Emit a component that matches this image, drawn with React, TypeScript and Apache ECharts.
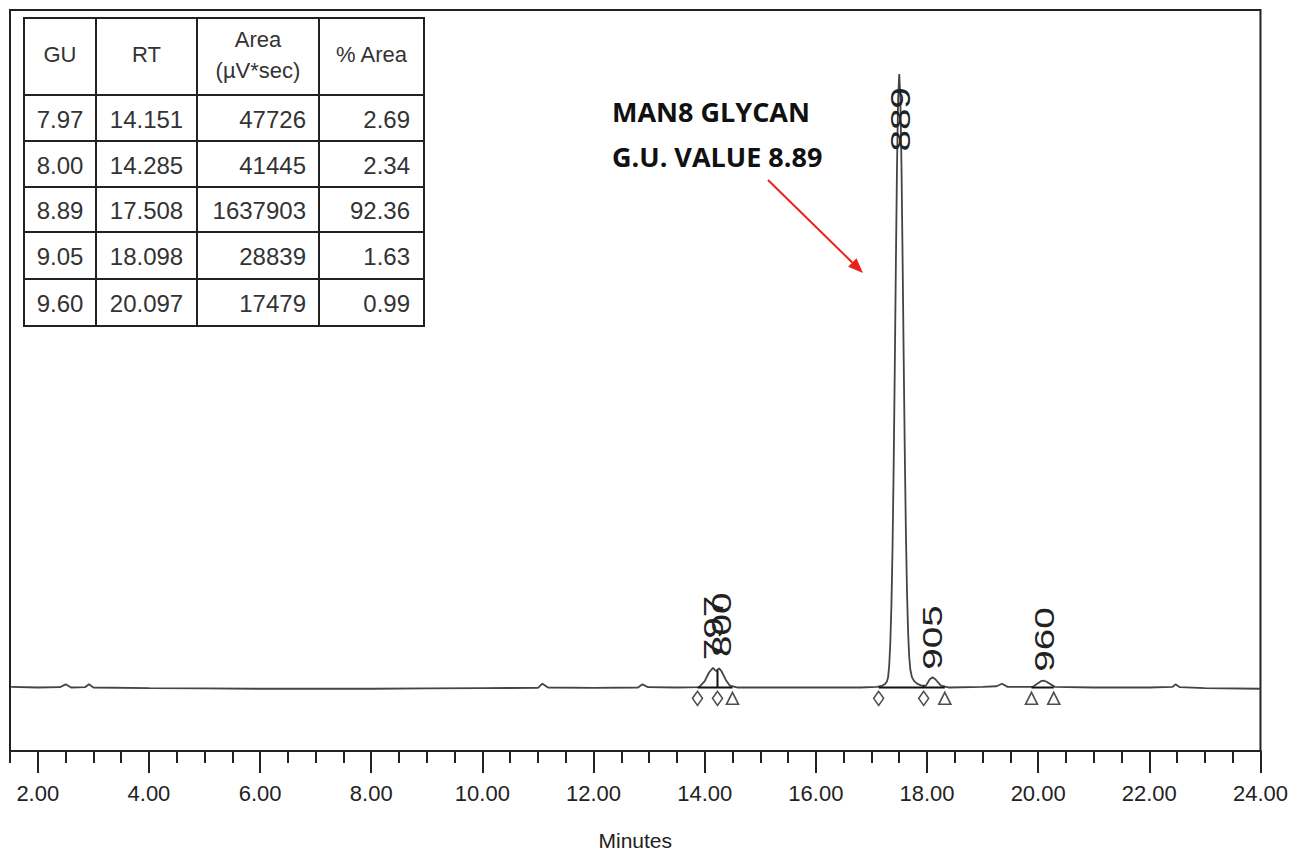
import React, { useEffect, useRef } from "react";
import * as echarts from "echarts";

// ---- Data ----
// Chromatogram trace: [minutes, signal (arbitrary units)]
const TRACE: number[][] = [
  [1.52, 0.1], [2.0, 0.0], [2.4, 0.05], [2.5, 0.5], [2.6, 0.0], [2.85, 0.05], [2.92, 0.5], [3.0, 0.0],
  [4.0, -0.1], [5.0, -0.15], [6.0, -0.2], [7.0, -0.2], [8.0, -0.2], [9.0, -0.15], [10.0, -0.1],
  [11.0, -0.05], [11.08, 0.6], [11.18, 0.0], [12.0, -0.05], [12.8, 0.0], [12.88, 0.5], [12.98, 0.05],
  [13.5, 0.0], [13.9, 0.05], [14.0, 1.0], [14.08, 2.4], [14.15, 3.1], [14.2, 2.6], [14.26, 3.0],
  [14.3, 2.6], [14.38, 1.2], [14.45, 0.3], [14.6, 0.0], [15.0, 0.0], [16.0, 0.0], [16.8, 0.0],
  [17.1, 0.1], [17.2, 0.3], [17.25, 0.6], [17.28, 1.0], [17.3, 1.6], [17.32, 3.5], [17.34, 7.1],
  [17.36, 13.1], [17.38, 22.2], [17.4, 34.8], [17.42, 50.3], [17.44, 66.9], [17.46, 82.0],
  [17.48, 92.7], [17.5, 96.6], [17.52, 92.9], [17.54, 82.6], [17.56, 68.0], [17.58, 52.0],
  [17.6, 37.0], [17.62, 24.5], [17.64, 15.0], [17.66, 8.6], [17.68, 4.8], [17.7, 2.8],
  [17.73, 1.6], [17.77, 1.0], [17.82, 0.6], [17.9, 0.3], [17.98, 0.3], [18.05, 1.3], [18.1, 1.6],
  [18.15, 1.3], [18.25, 0.3], [18.4, 0.0], [19.0, 0.1], [19.25, 0.2], [19.35, 0.6], [19.45, 0.1],
  [19.9, 0.1], [20.05, 1.0], [20.1, 1.1], [20.15, 0.9], [20.3, 0.1], [21.0, 0.0], [22.0, 0.0],
  [22.42, 0.1], [22.47, 0.5], [22.55, 0.05], [23.0, -0.1], [24.0, -0.2],
];

// Peak labels (GU x 100) at their retention times
const PEAK_LABELS = ["797", "800", "889", "905", "960"];
const PEAK_RT = [14.151, 14.285, 17.508, 18.098, 20.097];
const PEAK_LABEL_BASE = [4.3, 4.8, 84.4, 2.8, 2.5];

// Integration markers
const PEAK_START = [13.87, 14.23, 17.13, 17.94];
const PEAK_END = [14.5, 18.32, 19.88, 20.28];
const MARKER_LEVEL = -1.7;

// Integration baselines and drop lines
const BASELINE_SEGMENTS: number[][][] = [
  [[13.87, 0], [14.5, 0]],
  [[17.13, 0], [18.32, 0]],
  [[19.88, 0], [20.28, 0]],
  [[14.23, 0], [14.23, 2.7]],
  [[17.94, 0], [17.94, 0.3]],
];

// Axis
const X_MIN = 1.5;
const X_MAX = 24;
const MAJOR_TICKS = [2, 4, 6, 8, 10, 12, 14, 16, 18, 20, 22, 24];

// Table
const TABLE_HEADER = ["GU", "RT", "Area\n(µV*sec)", "% Area"];
const GU = ["7.97", "8.00", "8.89", "9.05", "9.60"];
const RT = ["14.151", "14.285", "17.508", "18.098", "20.097"];
const AREA = ["47726", "41445", "1637903", "28839", "17479"];
const PCT_AREA = ["2.69", "2.34", "92.36", "1.63", "0.99"];

const ANNOTATION = ["MAN8 GLYCAN", "G.U. VALUE 8.89"];

export default function App() {
  const ref = useRef<HTMLDivElement>(null);

  useEffect(() => {
    if (!ref.current) return;
    const chart = echarts.init(ref.current, undefined, { renderer: "svg" });

    const tickFont = "'Liberation Sans Narrow', 'Arial Narrow', 'Liberation Sans', sans-serif";
    const tableFont = "'Liberation Sans', Arial, sans-serif";

    // Table graphic
    const colX = [24, 96, 197, 319, 424];
    const rowY = [18, 95, 141, 187, 232, 279, 326];
    const tableEls: any[] = [];
    tableEls.push({
      type: "rect",
      shape: { x: colX[0], y: rowY[0], width: colX[4] - colX[0], height: rowY[6] - rowY[0] },
      style: { fill: "#fff", stroke: "#222", lineWidth: 2 },
      z: 10,
    });
    colX.slice(1, 4).forEach((x) => {
      tableEls.push({
        type: "line",
        shape: { x1: x, y1: rowY[0], x2: x, y2: rowY[6] },
        style: { stroke: "#222", lineWidth: 2 },
        z: 11,
      });
    });
    rowY.slice(1, 6).forEach((y) => {
      tableEls.push({
        type: "line",
        shape: { x1: colX[0], y1: y, x2: colX[4], y2: y },
        style: { stroke: "#222", lineWidth: 2 },
        z: 11,
      });
    });
    const txt = (text: string, x: number, y: number, align: string, size: number) => ({
      type: "text",
      x,
      y,
      z: 12,
      style: {
        text,
        fill: "#333",
        fontSize: size,
        fontFamily: tableFont,
        align,
        verticalAlign: "middle",
        textAlign: align,
        textVerticalAlign: "middle",
        lineHeight: 31,
      },
    });
    const headY = (rowY[0] + rowY[1]) / 2;
    TABLE_HEADER.forEach((h, i) => {
      tableEls.push(txt(h, (colX[i] + colX[i + 1]) / 2, headY - 2, "center", 22));
    });
    for (let r = 0; r < GU.length; r++) {
      const cy = (rowY[r + 1] + rowY[r + 2]) / 2 + 1;
      tableEls.push(txt(GU[r], (colX[0] + colX[1]) / 2, cy, "center", 24));
      tableEls.push(txt(RT[r], (colX[1] + colX[2]) / 2, cy, "center", 24));
      tableEls.push(txt(AREA[r], colX[3] - 13, cy, "right", 24));
      tableEls.push(txt(PCT_AREA[r], colX[4] - 14, cy, "right", 24));
    }

    // Annotation + arrow
    const annoEls: any[] = ANNOTATION.map((t, i) => ({
      type: "text",
      x: 612,
      y: 111 + i * 45,
      z: 12,
      style: {
        text: t,
        fill: "#111",
        fontSize: 27,
        fontWeight: "bold",
        fontFamily: "'Open Sans', 'Noto Sans', sans-serif",
        align: "left",
        verticalAlign: "middle",
        textAlign: "left",
        textVerticalAlign: "middle",
      },
    }));
    const ax1 = 768, ay1 = 180, ax2 = 863, ay2 = 273;
    const ang = Math.atan2(ay2 - ay1, ax2 - ax1);
    const hl = 15, hw = 6;
    const bx = ax2 - hl * Math.cos(ang), by = ay2 - hl * Math.sin(ang);
    annoEls.push({
      type: "line",
      z: 12,
      shape: { x1: ax1, y1: ay1, x2: bx, y2: by },
      style: { stroke: "#e8231c", lineWidth: 2 },
    });
    annoEls.push({
      type: "polygon",
      z: 12,
      shape: {
        points: [
          [ax2, ay2],
          [bx + hw * Math.sin(ang), by - hw * Math.cos(ang)],
          [bx - hw * Math.sin(ang), by + hw * Math.cos(ang)],
        ],
      },
      style: { fill: "#e8231c" },
    });

    const option: any = {
      animation: false,
      backgroundColor: "#fff",
      grid: {
        left: 10,
        right: 30,
        top: 10,
        bottom: 99,
        show: true,
        borderColor: "#222",
        borderWidth: 2,
      },
      xAxis: [
        {
          type: "value",
          min: X_MIN,
          max: X_MAX,
          interval: 0.5,
          position: "bottom",
          axisLine: { show: true, onZero: false, lineStyle: { color: "#222", width: 2 } },
          axisTick: { show: true, length: 12, lineStyle: { color: "#222", width: 2 } },
          axisLabel: { show: false },
          splitLine: { show: false },
          name: "Minutes",
          nameLocation: "middle",
          nameGap: 79,
          nameTextStyle: { fontFamily: tickFont, fontSize: 21, color: "#222" },
        },
        {
          type: "value",
          min: X_MIN,
          max: X_MAX,
          position: "bottom",
          axisLine: { show: false, onZero: false },
          axisTick: {
            show: true,
            length: 22,
            customValues: MAJOR_TICKS,
            lineStyle: { color: "#222", width: 2 },
          },
          axisLabel: {
            show: true,
            customValues: MAJOR_TICKS,
            formatter: (v: number) => v.toFixed(2),
            margin: 31,
            fontFamily: tickFont,
            fontSize: 22,
            color: "#222",
          },
          splitLine: { show: false },
        },
      ],
      yAxis: {
        type: "value",
        min: -10,
        max: 106.7,
        show: false,
        splitLine: { show: false },
      },
      series: [
        {
          type: "line",
          xAxisIndex: 0,
          data: TRACE,
          symbol: "none",
          lineStyle: { color: "#444", width: 1.8 },
          z: 3,
        },
        ...BASELINE_SEGMENTS.map((seg) => ({
          type: "line",
          xAxisIndex: 0,
          data: seg,
          symbol: "none",
          lineStyle: { color: "#111", width: 2 },
          z: 4,
        })),
        {
          type: "scatter",
          xAxisIndex: 0,
          data: PEAK_START.map((t) => [t, MARKER_LEVEL]),
          symbol: "diamond",
          symbolSize: [10, 14],
          itemStyle: { color: "#fff", borderColor: "#222", borderWidth: 1.6 },
          z: 5,
        },
        {
          type: "scatter",
          xAxisIndex: 0,
          data: PEAK_END.map((t) => [t, MARKER_LEVEL]),
          symbol: "triangle",
          symbolSize: [12, 12],
          itemStyle: { color: "#fff", borderColor: "#222", borderWidth: 1.6 },
          z: 5,
        },
        {
          type: "custom",
          xAxisIndex: 0,
          data: PEAK_RT.map((t, i) => [t, PEAK_LABEL_BASE[i]]),
          encode: { x: 0, y: 1 },
          z: 6,
          renderItem: (params: any, api: any) => {
            const p = api.coord([api.value(0), api.value(1)]);
            return {
              type: "text",
              x: p[0],
              y: p[1],
              rotation: Math.PI / 2,
              scaleX: 1.38,
              style: {
                text: PEAK_LABELS[params.dataIndex],
                fill: "#222",
                fontSize: 28,
                fontFamily: "'Liberation Sans', Arial, sans-serif",
                align: "left",
                verticalAlign: "middle",
              },
            };
          },
        },
      ],
      graphic: [...tableEls, ...annoEls],
    };

    chart.setOption(option);
    return () => chart.dispose();
  }, []);

  return (
    <div
      ref={ref}
      style={{ position: "absolute", left: 0, top: 0, width: 1291, height: 856 }}
    />
  );
}
